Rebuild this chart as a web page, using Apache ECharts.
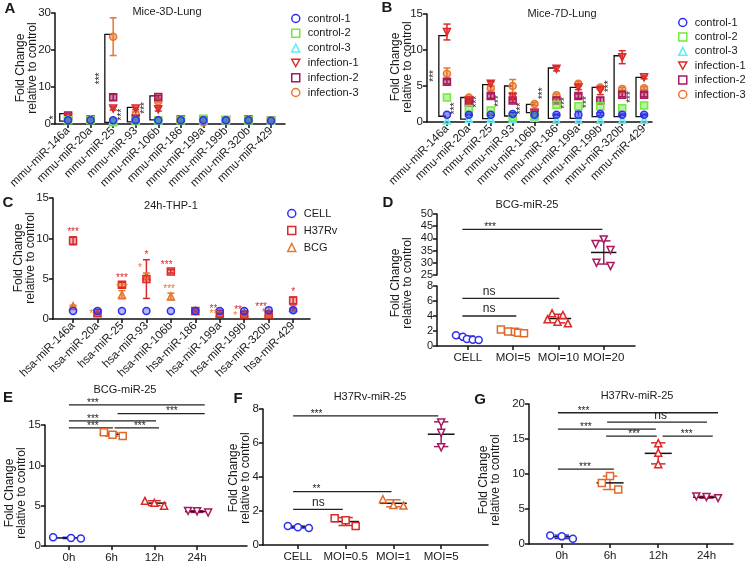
<!DOCTYPE html>
<html><head><meta charset="utf-8">
<script src="https://cdn.jsdelivr.net/npm/echarts@6/dist/echarts.min.js"></script>
<style>html,body{margin:0;padding:0;background:#fff}#c{width:747px;height:564px}</style>
</head><body><div id="c"></div>
<script>
// ================= DATA =================
const mmuCats = ['mmu-miR-146a','mmu-miR-20a','mmu-miR-25','mmu-miR-93','mmu-miR-106b','mmu-miR-186','mmu-miR-199a','mmu-miR-199b','mmu-miR-320b','mmu-miR-429'];
const hsaCats = ['hsa-miR-146a','hsa-miR-20a','hsa-miR-25','hsa-miR-93','hsa-miR-106b','hsa-miR-186','hsa-miR-199a','hsa-miR-199b','hsa-miR-320b','hsa-miR-429'];
const mouseNames = ['control-1','control-2','control-3','infection-1','infection-2','infection-3'];
const cellNames = ['CELL','H37Rv','BCG'];

// Panel A: Mice-3D-Lung
const a_control1 = [1.0,1.0,1.0,1.0,1.0,1.0,1.0,1.0,1.0,0.9];
const a_control2 = [1.0,1.0,0.5,0.8,1.0,1.0,1.4,1.0,1.0,0.9];
const a_control3 = [1.2,1.2,0.8,1.0,1.0,1.1,1.0,1.0,1.0,0.9];
const a_infection1 = [1.8,1.1,4.2,4.2,4.0,1.1,1.0,1.0,1.1,0.8];
const a_infection2 = [2.3,1.2,7.2,1.4,7.3,1.2,1.1,1.1,1.2,0.9];
const a_infection3 = [1.5,1.0,23.6,2.6,6.1,1.1,0.4,1.0,1.0,1.0];
const a_infection1_sd = [0.2,0.1,0.4,0.3,0.5,0.1,0.1,0.1,0.1,0.1];
const a_infection2_sd = [0.3,0.1,0.8,0.2,0.4,0.1,0.1,0.1,0.1,0.1];
const a_infection3_sd = [0.2,0.1,5.1,0.8,0.3,0.1,0.1,0.1,0.1,0.1];
const a_sig = [[0,0.8,2.8],[2,0.45,24.2],[3,0.6,4.5],[4,1.1,7.6]];
const a_sigText = ['*','***','***','***'];

// Panel B: Mice-7D-Lung
const b_control1 = [1.0,1.0,1.0,1.1,1.0,1.0,1.0,1.1,1.0,1.0];
const b_control1_sd = [0,0.1,0.1,0.2,0.1,0.1,0.5,0.2,0.1,0.1];
const b_control2 = [3.4,1.8,1.6,0.6,0.8,2.4,2.2,2.2,1.9,2.3];
const b_control3 = [0.2,0.4,0.4,0.4,0.6,0.3,0.3,0.3,0.3,0.3];
const b_infection1 = [12.5,3.0,5.3,3.5,1.3,7.4,4.8,4.4,9.0,6.2];
const b_infection1_sd = [1.1,0.3,0.3,0.4,0.1,0.3,0.3,0.6,0.9,0.2];
const b_infection2 = [5.6,2.7,3.6,3.0,1.3,3.0,3.6,3.0,3.8,3.8];
const b_infection2_sd = [0.3,0.2,0.3,0.3,0.1,0.3,0.3,0.4,0.3,0.3];
const b_infection3 = [6.7,3.4,4.7,5.0,2.5,3.7,5.3,4.8,4.6,4.7];
const b_infection3_sd = [0.8,0.2,0.3,0.9,0.2,0.2,0.3,0.2,0.2,0.2];
const b_sig = [[0,0.8,12.0],[1,0.4,3.4],[2,0.46,5.2],[3,0.83,5.0],[4,1.3,2.45],[5,0.5,7.5],[6,0.5,4.8],[7,0.74,4.8],[8,0.74,9.2],[9,0.74,6.2]];
const b_sigText = ['***','***','***','***','***','***','***','***','***','***'];

// Panel C: 24h-THP-1
const c_cell = [1.0,1.0,1.0,1.0,1.0,1.0,1.0,1.0,1.1,1.1];
const c_cell_sd = [0,0,0,0,0,0,0,0,0,0.2];
const c_h37rv = [9.7,0.75,4.25,4.95,5.9,1.0,0.65,0.55,0.55,2.3];
const c_h37rv_sd = [0.5,0.1,0.3,2.4,0.2,0.1,0.1,0.1,0.1,0.4];
const c_bcg = [1.6,0.7,3.0,5.3,2.8,1.0,0.7,0.75,0.8,1.4];
const c_bcg_sd = [0.1,0.1,0.5,0.4,0.4,0.1,0.1,0.1,0.1,0.3];
const c_starsH37rv = [[0,10.7],[2,5.0],[3,7.85],[3.83,6.7],[5.74,1.15],[6.75,1.1],[7.69,1.4],[9,3.3]];
const c_starsH37rvText = ['***','***','*','***','**','**','***','*'];
const c_starsBcg = [[0.74,0.55],[2,3.8],[2.74,6.3],[3.93,3.7],[5.74,0.55],[6.63,0.4],[7.8,0.75]];
const c_starsBcgText = ['*','***','*','***','**','*','*'];

// Panel D: BCG-miR-25 (MOI)
const d_cats = ['CELL','MOI=5','MOI=10','MOI=20'];
const d_cell = [1.43,1.24,0.93,0.84,0.80];
const d_moi5 = [2.20,1.95,1.90,1.77,1.69];
const d_moi10 = [3.56,4.36,3.24,4.13,3.02];
const d_moi20 = [37.7,39.6,35.2,30.0,28.7];
const d_jitter = [[-0.26,-0.11,-0.02,0.11,0.24],[-0.27,-0.11,0.04,0.11,0.24],[-0.24,-0.14,-0.02,0.10,0.21],[-0.18,0,0.15,-0.16,0.15]];
const d_sig = [[-0.12,2.97,43.7],[-0.12,2.02,6.35],[-0.12,1.07,4.0]];
const d_sigText = ['***','ns','ns'];
const d_sigTextX = [0.49,0.47,0.47];

// Panel E: BCG-miR-25 (time)
const e_cats = ['0h','6h','12h','24h'];
const e_0h = [1.08,1.0,0.92];
const e_6h = [14.1,13.8,13.65];
const e_12h = [5.6,5.35,5.0];
const e_24h = [4.35,4.3,4.15];
const e_jitter = [[-0.37,0.05,0.28],[-0.18,0.02,0.26],[-0.22,0,0.23],[-0.21,0,0.26]];
const e_sig = [[0,3.18,17.5],[1.14,3.18,16.4],[0,2.04,15.5],[0,1.03,14.65],[1.07,2.11,14.65]];
const e_sigText = ['***','***','***','***','***'];
const e_sigTextX = [0.56,2.41,0.56,0.56,1.66];

// Panel F: H37Rv-miR-25 (MOI)
const f_cats = ['CELL','MOI=0.5','MOI=1','MOI=5'];
const f_cell = [1.12,1.05,1.0];
const f_moi05 = [1.57,1.45,1.12];
const f_moi1 = [2.69,2.35,2.32];
const f_moi5 = [7.2,6.6,5.75];
const f_jitter = [[-0.21,0,0.23],[-0.23,0,0.21],[-0.22,0,0.21],[0,0,0]];
const f_sig = [[-0.1,2.94,7.6],[-0.1,1.96,3.14],[-0.1,0.94,2.1]];
const f_sigText = ['***','**','ns'];
const f_sigTextX = [0.39,0.39,0.43];

// Panel G: H37Rv-miR-25 (time)
const g_cats = ['0h','6h','12h','24h'];
const g_0h = [1.23,1.09,0.76];
const g_6h = [8.7,9.7,7.8];
const g_12h = [14.4,13.05,11.4];
const g_24h = [6.8,6.7,6.55];
const g_jitter = [[-0.24,0,0.23],[-0.17,0,0.17],[0,0,0],[-0.21,0,0.24]];
const g_sig = [[-0.08,3.24,18.75],[0.94,3.01,17.4],[-0.08,1.95,16.4],[0.92,1.97,15.4],[2.09,3.13,15.4],[-0.08,1.08,10.7]];
const g_sigText = ['***','ns','***','***','***','***'];
const g_sigTextX = [0.45,2.05,0.5,1.5,2.59,0.48];

// ================= STYLE / BUILD =================
const FONT = '"Liberation Sans", Arial, Helvetica, sans-serif';
const TXT = '#1a1a1a';
const C = {blue:'#2e2ef2', green:'#74e83e', cyan:'#62eef0', red:'#dc2828', magenta:'#a61a5c', orange:'#e8762c'};
const DOWN = 'path://M0,0 L10,0 L5,9 Z';
function rgba(hex, a){const n=parseInt(hex.slice(1),16);return `rgba(${n>>16&255},${n>>8&255},${n&255},${a})`;}

const grids=[], xAxes=[], yAxes=[], series=[];
function addGrid(rect, xc, yc){
  const gi = grids.length;
  grids.push({left:rect[0], top:rect[1], width:rect[2], height:rect[3], containLabel:false, outerBoundsMode:'none'});
  const idx = xc.cats.map((c,i)=>i);
  xAxes.push({type:'value', gridIndex:gi, min:xc.min, max:xc.max, show:xc.show!==false,
    axisLine:{show:true,onZero:false,lineStyle:{color:'#111',width:1.5}},
    axisTick:{show:true,length:4,inside:false,lineStyle:{color:'#111',width:1.5},customValues:idx},
    axisLabel:{customValues:idx, formatter:v=>xc.cats[Math.round(v)]||'', rotate:xc.rotate||0, fontSize:xc.fontSize||11, color:TXT, fontFamily:FONT, margin:xc.margin||6},
    splitLine:{show:false}});
  yAxes.push({type:'value', gridIndex:gi, min:yc.min, max:yc.max, interval:yc.interval,
    axisLine:{show:true,onZero:false,lineStyle:{color:'#111',width:1.5}},
    axisTick:{show:true,length:4,lineStyle:{color:'#111',width:1.5}},
    axisLabel:{fontSize:yc.fontSize||11.5, color:TXT, fontFamily:FONT, margin:4},
    splitLine:{show:false}});
  return gi;
}

function scatter(gi, name, symbol, color, data, fillAlpha, size, z){
  series.push({type:'scatter', name, xAxisIndex:gi, yAxisIndex:gi, symbol, symbolSize:size||7, data,
    itemStyle:{color: fillAlpha>0?rgba(color,fillAlpha):'#ffffff', borderColor:color, borderWidth:1.5, opacity:1},
    z:z||4, silent:true});
}
function errBars(gi, data, color, cap){
  series.push({type:'custom', xAxisIndex:gi, yAxisIndex:gi, data, silent:true, clip:false, z:3,
    renderItem:(p,api)=>{
      const x=api.value(0), m=api.value(1), s=api.value(2);
      if(!s) return null;
      const a=api.coord([x,m+s]), b=api.coord([x,m-s]);
      const st={stroke:color,lineWidth:1.5};
      return {type:'group',children:[
        {type:'line',shape:{x1:a[0],y1:a[1],x2:b[0],y2:b[1]},style:st},
        {type:'line',shape:{x1:a[0]-cap,y1:a[1],x2:a[0]+cap,y2:a[1]},style:st},
        {type:'line',shape:{x1:b[0]-cap,y1:b[1],x2:b[0]+cap,y2:b[1]},style:st}]};
    }});
}
function brackets(gi, sig, texts){
  series.push({type:'custom', xAxisIndex:gi, yAxisIndex:gi, data:sig, silent:true, clip:false, z:2,
    renderItem:(p,api)=>{
      const s=sig[p.dataIndex];
      const top=api.coord([s[0],s[2]]), bot=api.coord([s[0],s[1]]);
      const off=api.size([0.37,0])[0];
      const xl=top[0]-off, xr=top[0]-1;
      return {type:'group',children:[
        {type:'polyline',shape:{points:[[xr,top[1]],[xl,top[1]],[xl,bot[1]],[xr,bot[1]]]},style:{stroke:'#111',lineWidth:1.3,fill:null}},
        {type:'text',x:xl-5,y:(top[1]+bot[1])/2,rotation:Math.PI/2,style:{text:texts[p.dataIndex],fill:'#222',font:'10px '+FONT,align:'center',verticalAlign:'middle'}}]};
    }});
}
function stars(gi, pts, texts, color){
  series.push({type:'custom', xAxisIndex:gi, yAxisIndex:gi, data:pts, silent:true, clip:false, z:5,
    renderItem:(p,api)=>{
      const c=api.coord(pts[p.dataIndex]);
      return {type:'text',x:c[0],y:c[1],style:{text:texts[p.dataIndex],fill:color,font:'10px '+FONT,align:'center',verticalAlign:'middle'}};
    }});
}
function sigLines(gi, lines, texts, tx){
  series.push({type:'custom', xAxisIndex:gi, yAxisIndex:gi, data:lines, silent:true, clip:false, z:2,
    renderItem:(p,api)=>{
      const L=lines[p.dataIndex], t=texts[p.dataIndex];
      const a=api.coord([L[0],L[2]]), b=api.coord([L[1],L[2]]), c=api.coord([tx[p.dataIndex],L[2]]);
      const ns = t==='ns';
      return {type:'group',children:[
        {type:'line',shape:{x1:a[0],y1:a[1],x2:b[0],y2:b[1]},style:{stroke:'#222',lineWidth:1.3}},
        {type:'text',x:c[0],y:c[1]+(ns?-1:3),style:{text:t,fill:'#222',font:(ns?'12px ':'10px ')+FONT,align:'center',verticalAlign:'bottom'}}]};
    }});
}
function dotGroups(giFor, groups, jitter, symbols, colors, halfW, capW){
  groups.forEach((vals,i)=>{
    const gi = giFor(i);
    scatter(gi, '', symbols[i], colors[i], vals.map((v,k)=>[i+jitter[i][k], v]), 0, 7, 5);
    const n=vals.length, m=vals.reduce((s,v)=>s+v,0)/n;
    const sd=Math.sqrt(vals.reduce((s,v)=>s+(v-m)*(v-m),0)/(n-1));
    series.push({type:'custom', xAxisIndex:gi, yAxisIndex:gi, data:[[i,m,sd]], silent:true, clip:false, z:3,
      renderItem:(p,api)=>{
        const c=api.coord([i,m]), a=api.coord([i,m+sd]), b=api.coord([i,m-sd]);
        const hw=api.size([halfW,0])[0], cw=api.size([capW,0])[0];
        const st={stroke:colors[i],lineWidth:1.5};
        return {type:'group',children:[
          {type:'line',shape:{x1:a[0],y1:a[1],x2:b[0],y2:b[1]},style:st},
          {type:'line',shape:{x1:a[0]-cw,y1:a[1],x2:a[0]+cw,y2:a[1]},style:st},
          {type:'line',shape:{x1:b[0]-cw,y1:b[1],x2:b[0]+cw,y2:b[1]},style:st},
          {type:'line',shape:{x1:c[0]-hw,y1:c[1],x2:c[0]+hw,y2:c[1]},style:{stroke:'#111',lineWidth:1.5}}]};
      }});
  });
}

const mouseColors=[C.blue,C.green,C.cyan,C.red,C.magenta,C.orange];
const mouseSymbols=['circle','rect','triangle',DOWN,'rect','circle'];
const toXY = arr => arr.map((v,i)=>[i,v]);
const toErr = (arr,sd) => arr.map((v,i)=>[i,v,sd[i]]);

// ---- Panel A ----
const gA = addGrid([55,13,230,111],{min:-0.58,max:9.62,cats:mmuCats,rotate:45,fontSize:11.5,margin:5},{min:0,max:30,interval:10});
const aVals=[a_control1,a_control2,a_control3,a_infection1,a_infection2,a_infection3];
const aSd=[null,null,null,a_infection1_sd,a_infection2_sd,a_infection3_sd];
brackets(gA,a_sig,a_sigText);
for(let k=5;k>=0;k--){ if(aSd[k]) errBars(gA,toErr(aVals[k],aSd[k]),mouseColors[k],3.5); scatter(gA,mouseNames[k],mouseSymbols[k],mouseColors[k],toXY(aVals[k]),0.5,7,4); }

// ---- Panel B ----
const gB = addGrid([427,14,225,108],{min:-0.91,max:9.36,cats:mmuCats,rotate:45,fontSize:11.5,margin:5},{min:0,max:15,interval:5});
const bVals=[b_control1,b_control2,b_control3,b_infection1,b_infection2,b_infection3];
const bSd=[b_control1_sd,null,null,b_infection1_sd,b_infection2_sd,b_infection3_sd];
brackets(gB,b_sig,b_sigText);
for(let k=5;k>=0;k--){ if(bSd[k]) errBars(gB,toErr(bVals[k],bSd[k]),mouseColors[k],3.5); scatter(gB,mouseNames[k],mouseSymbols[k],mouseColors[k],toXY(bVals[k]),0.5,7,4); }

// ---- Panel C ----
const gC = addGrid([53,198,257,121],{min:-0.82,max:9.69,cats:hsaCats,rotate:45,fontSize:11.5,margin:5},{min:0,max:15,interval:5});
const cColors=[C.blue,C.red,C.orange], cSymbols=['circle','rect','triangle'];
const cVals=[c_cell,c_h37rv,c_bcg], cSd=[c_cell_sd,c_h37rv_sd,c_bcg_sd];
for(let k=2;k>=0;k--){ errBars(gC,toErr(cVals[k],cSd[k]),cColors[k],3.5); scatter(gC,cellNames[k],cSymbols[k],cColors[k],toXY(cVals[k]),0.35,7,4); }
stars(gC,c_starsH37rv,c_starsH37rvText,C.red);
stars(gC,c_starsBcg,c_starsBcgText,C.orange);

// ---- Panel D (broken axis) ----
const gDu = addGrid([437,214,198,61],{min:-0.68,max:3.69,cats:d_cats,show:false},{min:25,max:50,interval:5,fontSize:11});
const gDl = addGrid([437,286,198,60],{min:-0.68,max:3.69,cats:d_cats,fontSize:11.5},{min:0,max:8,interval:2,fontSize:11});
const grpSymbols=['circle','rect','triangle',DOWN];
dotGroups(i=>i===3?gDu:gDl,[d_cell,d_moi5,d_moi10,d_moi20],d_jitter,grpSymbols,[C.blue,'#e0682c',C.red,C.magenta],0.28,0.15);
sigLines(gDu,[d_sig[0]],[d_sigText[0]],[d_sigTextX[0]]);
sigLines(gDl,d_sig.slice(1),d_sigText.slice(1),d_sigTextX.slice(1));

// ---- Panel E ----
const gE = addGrid([45,425,202,121],{min:-0.56,max:4.17,cats:e_cats,fontSize:11.5},{min:0,max:15,interval:5});
dotGroups(()=>gE,[e_0h,e_6h,e_12h,e_24h],e_jitter,grpSymbols,[C.blue,'#e0682c',C.red,C.magenta],0.28,0.15);
sigLines(gE,e_sig,e_sigText,e_sigTextX);

// ---- Panel F ----
const gF = addGrid([263,409,225,136],{min:-0.73,max:3.98,cats:f_cats,fontSize:11.5},{min:0,max:8,interval:2});
dotGroups(()=>gF,[f_cell,f_moi05,f_moi1,f_moi5],f_jitter,grpSymbols,[C.blue,C.red,'#e0682c',C.magenta],0.28,0.15);
sigLines(gF,f_sig,f_sigText,f_sigTextX);

// ---- Panel G ----
const gG = addGrid([529,404,204,140],{min:-0.68,max:3.55,cats:g_cats,fontSize:11.5},{min:0,max:20,interval:5});
dotGroups(()=>gG,[g_0h,g_6h,g_12h,g_24h],g_jitter,grpSymbols,[C.blue,'#e0682c',C.red,C.magenta],0.28,0.15);
sigLines(gG,g_sig,g_sigText,g_sigTextX);

// ---- texts ----
function t(x,y,text,opt){return Object.assign({type:'text',x,y,silent:true,style:{text,fill:TXT,font:(opt&&opt.font)||('11px '+FONT),align:'center',verticalAlign:'middle',lineHeight:12}},opt&&opt.rot?{rotation:Math.PI/2}:{});}
const YT='Fold Change\nrelative to control';
const YF='12px '+FONT;
const graphics=[
  t(10,9,'A',{font:'bold 15px '+FONT}), t(387,8,'B',{font:'bold 15px '+FONT}), t(8,203,'C',{font:'bold 15px '+FONT}),
  t(388,203,'D',{font:'bold 15px '+FONT}), t(8,398,'E',{font:'bold 15px '+FONT}), t(238,399,'F',{font:'bold 15px '+FONT}), t(480,400,'G',{font:'bold 15px '+FONT}),
  t(167,12,'Mice-3D-Lung'), t(562,14,'Mice-7D-Lung'), t(171,206,'24h-THP-1'), t(527,205,'BCG-miR-25'),
  t(125,390,'BCG-miR-25'), t(370,397,'H37Rv-miR-25'), t(637,396,'H37Rv-miR-25'),
  t(27,68,YT,{rot:1,font:YF}), t(402,67,YT,{rot:1,font:YF}), t(25,258,YT,{rot:1,font:YF}), t(402,283,YT,{rot:1,font:YF}),
  t(16,493,YT,{rot:1,font:YF}), t(240,478,YT,{rot:1,font:YF}), t(490,480,YT,{rot:1,font:YF})
];

const legendBase={orient:'vertical',itemWidth:8,itemHeight:8,selectedMode:false,padding:5,
  textStyle:{fontSize:11,fontFamily:FONT,color:TXT,padding:[0,0,0,3]}};
const mouseLegendData=mouseNames.map((n,i)=>({name:n,itemStyle:{color:'#fff',borderColor:mouseColors[i],borderWidth:1.5}}));
const legends=[
  Object.assign({},legendBase,{left:286,top:8,itemGap:3.8,data:mouseLegendData}),
  Object.assign({},legendBase,{left:673,top:12,itemGap:3.4,data:mouseLegendData}),
  Object.assign({},legendBase,{left:282,top:203,itemGap:6,data:cellNames.map((n,i)=>({name:n,itemStyle:{color:'#fff',borderColor:cColors[i],borderWidth:1.5}}))})
];

const chart=echarts.init(document.getElementById('c'),null,{renderer:'canvas'});
chart.setOption({animation:false,backgroundColor:'#fff',grid:grids,xAxis:xAxes,yAxis:yAxes,series,legend:legends,graphic:graphics,
  textStyle:{fontFamily:FONT}});
</script></body></html>
